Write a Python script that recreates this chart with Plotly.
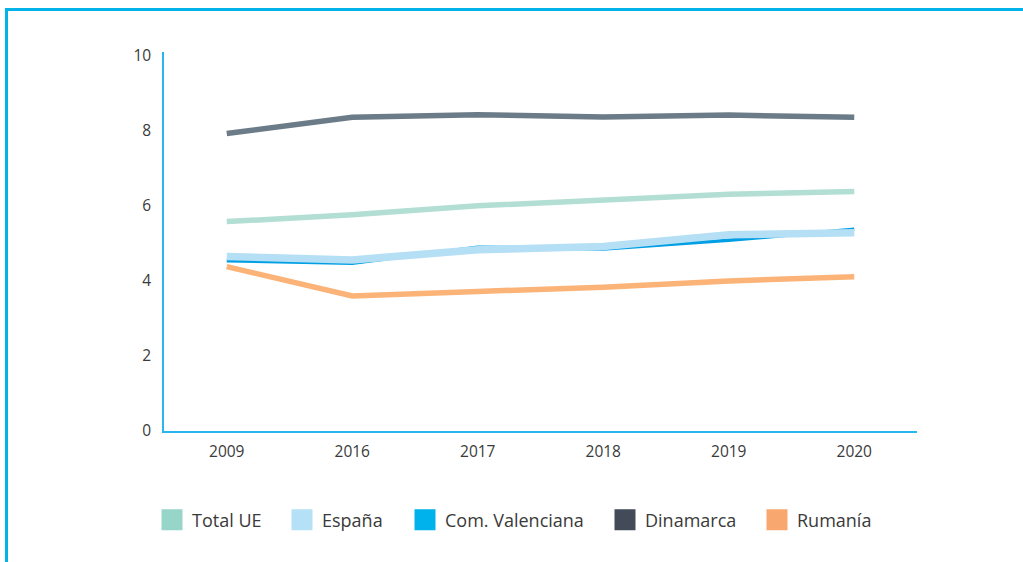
import plotly.graph_objects as go

years = ["2009", "2016", "2017", "2018", "2019", "2020"]
total_ue = [5.58, 5.76, 6.0, 6.15, 6.31, 6.38]
espana = [4.65, 4.56, 4.83, 4.92, 5.23, 5.28]
valenciana = [4.54, 4.47, 4.9, 4.85, 5.08, 5.38]
dinamarca = [7.93, 8.36, 8.43, 8.37, 8.42, 8.36]
rumania = [4.38, 3.6, 3.72, 3.83, 4.0, 4.11]

names = ["Total UE", "España", "Com. Valenciana", "Dinamarca", "Rumanía"]
legend_colors = ["#97d5c9", "#b5e1f7", "#00b2ec", "#434b58", "#f8a86e"]
line_colors = ["#b3ded3", "#b5dff5", "#009fe3", "#6b7c88", "#fbb377"]
line_widths = [5.5, 7.5, 3.5, 5.5, 5.5]
series = [total_ue, espana, valenciana, dinamarca, rumania]
text_left = [192, 322, 445, 645, 797]

FONT = "Open Sans"
TXT = "#3a3a3a"
fig = go.Figure()

draw_order = [0, 2, 1, 3, 4]
for i in draw_order:
    fig.add_trace(go.Scatter(
        x=years, y=series[i], mode="lines", name=names[i],
        line=dict(color=line_colors[i], width=line_widths[i]),
        showlegend=False, hoverinfo="x+y+name"))

W, H = 1023, 562
L, R, T, B = 164, 917, 52, 431
pw, ph = R - L, B - T

def px(x):
    return (x - L) / pw

def py(y):
    return (B - y) / ph

legends = {}
for i in range(5):
    key = "legend" if i == 0 else f"legend{i + 1}"
    fig.add_trace(go.Scatter(
        x=[None], y=[None], mode="markers", name=names[i],
        marker=dict(symbol="square", size=16, color=legend_colors[i],
                    line=dict(color=legend_colors[i], width=5)),
        showlegend=True, legend=key))
    legends[key] = dict(orientation="h", x=px(text_left[i] - 40),
                        xanchor="left", y=py(520), yanchor="middle",
                        bgcolor="rgba(0,0,0,0)",
                        font=dict(family=FONT, size=18, color=TXT))

border = "#00b4ea"
fig.add_shape(type="line", xref="paper", yref="paper",
              x0=px(5), x1=px(1030), y0=py(9.5), y1=py(9.5),
              line=dict(color=border, width=3))
fig.add_shape(type="line", xref="paper", yref="paper",
              x0=px(6.5), x1=px(6.5), y0=py(8), y1=py(600),
              line=dict(color=border, width=3))

fig.update_layout(
    width=W, height=H,
    margin=dict(l=L, r=W - R, t=T, b=H - B, pad=0),
    paper_bgcolor="white", plot_bgcolor="white",
    font=dict(family=FONT, size=15, color=TXT),
    showlegend=True,
    xaxis=dict(type="category", range=[-0.5, 5.5], showgrid=False,
               showline=True, linecolor="#29b6f0", linewidth=1.5,
               ticks="", ticklabelstandoff=6, zeroline=False,
               tickfont=dict(family=FONT, size=15.5, color=TXT)),
    yaxis=dict(range=[0, 10.1], tickvals=[0, 2, 4, 6, 8, 10],
               showgrid=False, showline=True, linecolor="#29b6f0",
               linewidth=1.5, ticks="", ticklabelstandoff=8,
               zeroline=False,
               tickfont=dict(family=FONT, size=15.5, color=TXT)),
    **legends,
)

fig.write_html("out.html", config={"displayModeBar": False},
               post_script="document.body.style.margin='0';document.body.style.overflow='hidden';")
